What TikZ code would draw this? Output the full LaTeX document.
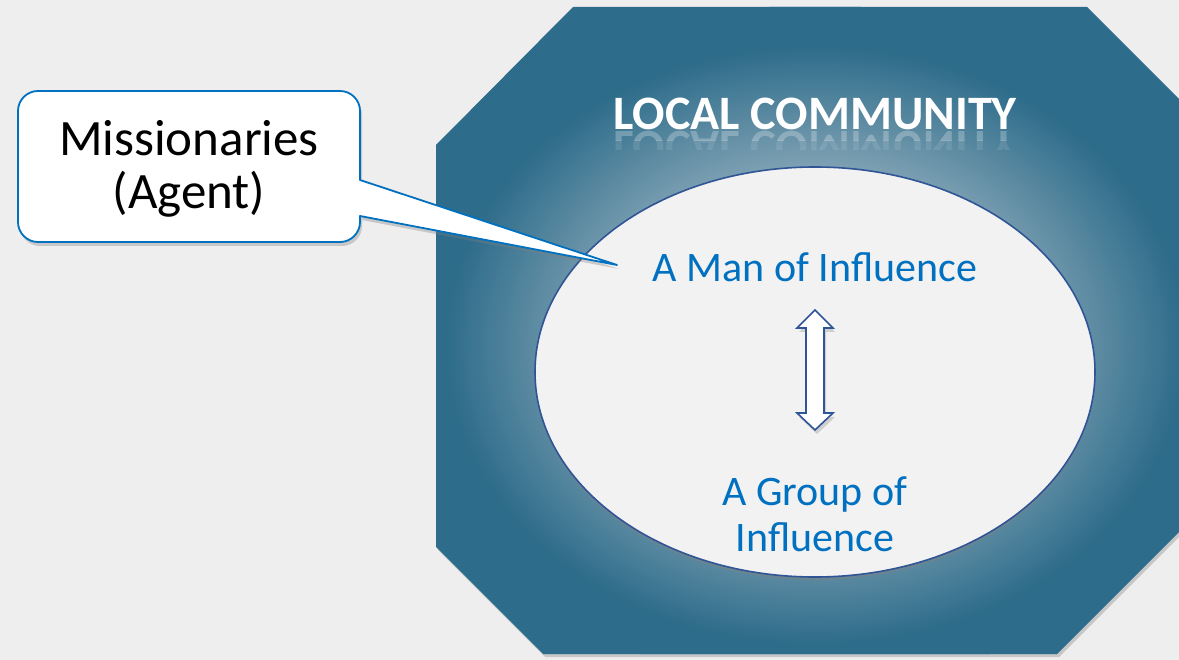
\documentclass[tikz,border=0pt]{standalone}
\usepackage{fontspec}
\setmainfont{Carlito}
\usetikzlibrary{shadows,shapes.geometric}
\definecolor{bgc}{HTML}{EEEEEE}
\definecolor{octteal}{HTML}{2D6C8A}
\definecolor{glowc}{HTML}{88A7B8}
\definecolor{ellfill}{HTML}{F2F2F2}
\definecolor{ellline}{HTML}{2F5597}
\definecolor{callblue}{HTML}{0070C0}
\pgfdeclareradialshading{octglow}{\pgfpointorigin}{color(0bp)=(glowc); color(12bp)=(glowc); color(22bp)=(octteal); color(25bp)=(octteal); color(50bp)=(octteal)}
\tikzset{
  octshape/.style={fill=octteal, drop shadow={shadow xshift=2pt, shadow yshift=-3pt, opacity=0.35}},
  ellshape/.style={ellipse, draw=ellline, line width=1.6pt, fill=ellfill, inner sep=0pt,
     drop shadow={shadow xshift=0pt, shadow yshift=-3pt, opacity=0.45}},
  inner/.style={text=callblue, font=\fontsize{42}{46}\selectfont, align=center},
  titletext/.style={text=white, font=\bfseries\fontsize{48}{52}\selectfont},
  callshape/.style={fill=white, draw=callblue, line width=1.8pt, line join=round,
     drop shadow={shadow xshift=2pt, shadow yshift=-4pt, opacity=0.35}},
  calltext/.style={text=black, font=\fontsize{51}{53}\selectfont, align=center},
  blockarrow/.style={fill=white, draw=ellline, line width=1.6pt, line join=miter,
     drop shadow={shadow xshift=2pt, shadow yshift=-4pt, opacity=0.3}}
}
\begin{document}
\begin{tikzpicture}[x=1pt,y=-1pt]
\useasboundingbox (0,0) rectangle (1179,660);
\fill[bgc] (0,0) rectangle (1179,660);
\begin{scope}
\clip (0,0) rectangle (1179,660);
% octagon
\path[octshape] (573,7) -- (1087,7) -- (1230,150) -- (1230,481) -- (1057,654) -- (543,654) -- (436,547) -- (436,145) -- cycle;
\begin{scope}
\clip (573,7) -- (1087,7) -- (1230,150) -- (1230,481) -- (1057,654) -- (543,654) -- (436,547) -- (436,145) -- cycle;
\shade[shading=octglow] (815,345) ellipse [x radius=420pt, y radius=340pt];
\end{scope}
% title and reflection
\node[titletext, anchor=base] (title) at (815,130) {LOCAL COMMUNITY};
\begin{scope}
\clip (590,131) rectangle (1040,141);
\node[titletext, anchor=base, yscale=-1, opacity=0.25] (titlerefl) at (815,132) {LOCAL COMMUNITY};
\end{scope}
\begin{scope}
\clip (590,141) rectangle (1040,150);
\node[titletext, anchor=base, yscale=-1, opacity=0.1] (titlerefl2) at (815,132) {LOCAL COMMUNITY};
\end{scope}
% ellipse
\node[ellshape, minimum width=560pt, minimum height=410pt] (ell) at (815,372) {};
% inner texts
\node[inner, anchor=base] (man) at (815,282) {A Man of Influence};
\node[inner, anchor=base] (group) at (815,551) {A Group of\\Influence};
% double block arrow
\coordinate (atop) at (815,310);
\coordinate (abot) at (815,430);
\path[blockarrow] (atop) -- ++(18,18) -- ++(-9,0) -- ++(0,85) -- ++(9,0) -- (abot) -- ++(-18,-17) -- ++(9,0) -- ++(0,-85) -- ++(-9,0) -- cycle;
% callout
\coordinate (tip) at (617,265);
\path[callshape] (360,180) [sharp corners] -- (tip) -- (360,216) [rounded corners=20pt] -- (360,242) -- (18,242) -- (18,91) -- (360,91) [sharp corners] -- (360,180) -- cycle;
\node[calltext, anchor=base] (call) at (189,209) {Missionaries\\(Agent)};
\end{scope}
\end{tikzpicture}
\end{document}
